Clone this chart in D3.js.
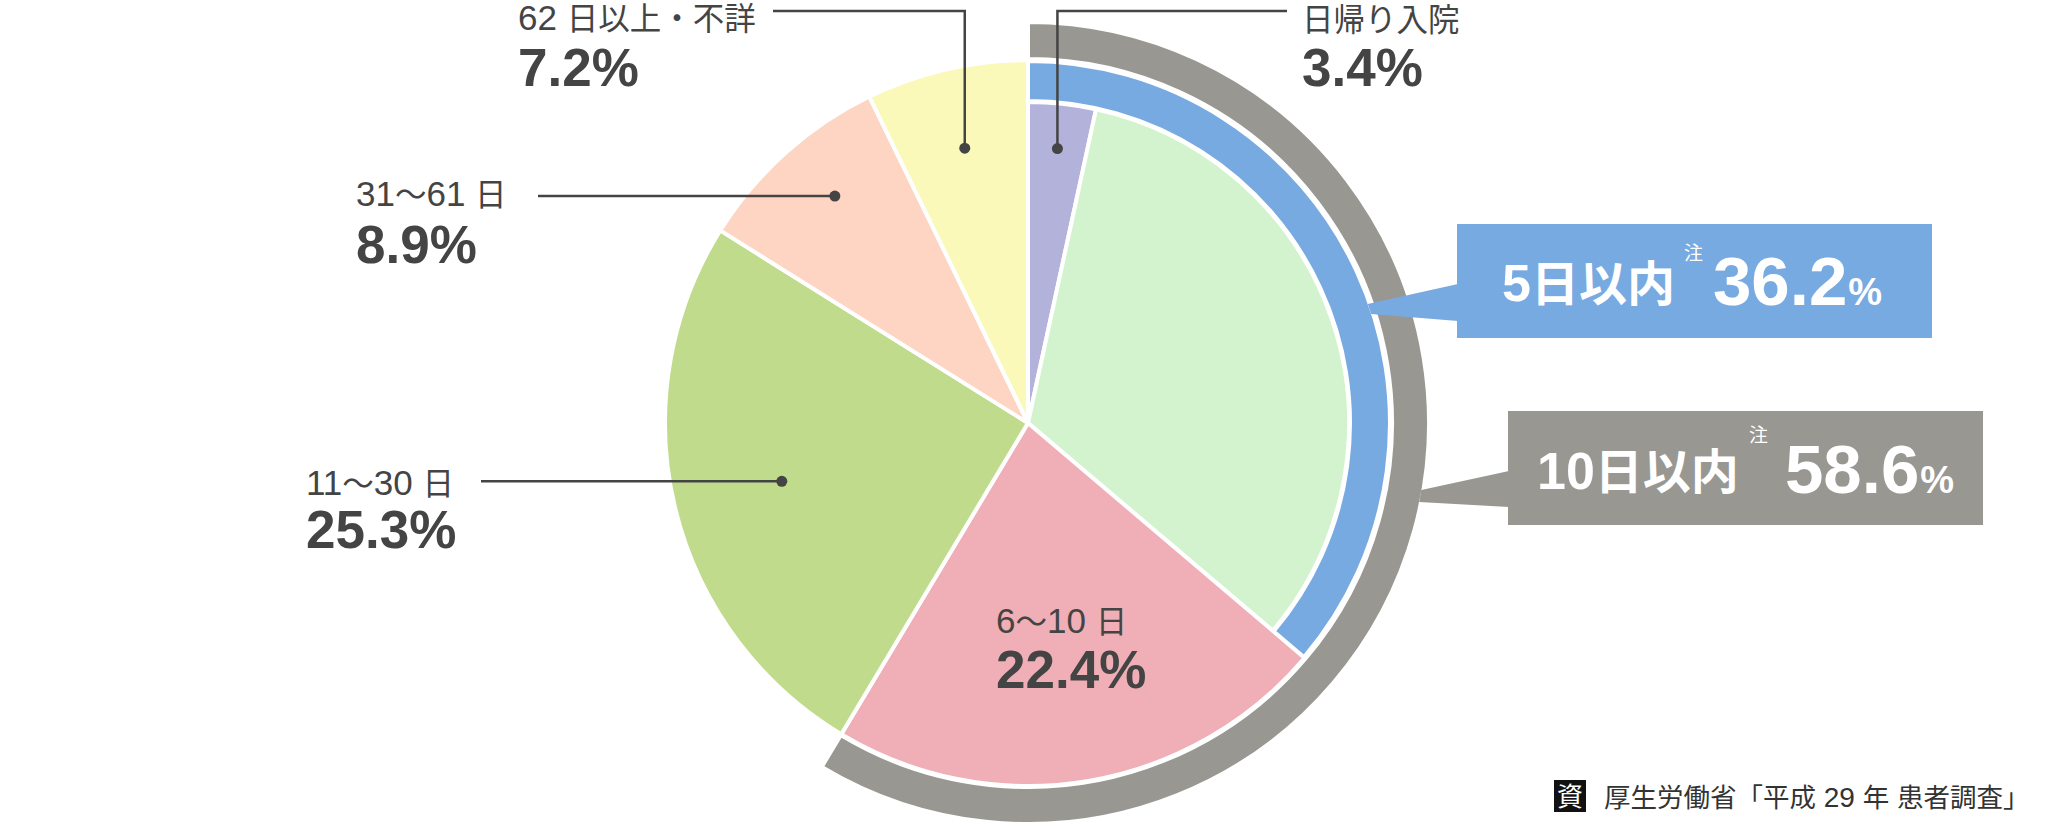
<!DOCTYPE html>
<html><head><meta charset="utf-8">
<script src="https://cdn.jsdelivr.net/npm/d3@7"></script>
<style>body{margin:0;background:#fff}</style>
</head><body><svg id="c" width="2054" height="826"></svg>
<script>
// ---- data ----
const categories = ["日帰り入院", "1〜5 日", "6〜10 日", "11〜30 日", "31〜61 日", "62 日以上・不詳"];
const values = [3.4, 32.8, 22.4, 25.3, 8.9, 7.2];
const showLabel = [true, false, true, true, true, true];
const groupNames = ["5日以内", "10日以内"];
const groupValues = [36.2, 58.6];
const groupLastIndex = [1, 2];
const noteMark = "注";
const sourceBadge = "資";
const sourceText = "厚生労働省「平成 29 年 患者調査」";

// ---- styles ----
const sliceColors = ["#b3b2db", "#d3f3cf", "#f0afb6", "#c1db8c", "#fed4c2", "#fbf9b9"];
const groupColors = ["#78aae2", "#989792"];
const textColor = "#444444";
const latin = "'Liberation Sans', Arial, 'Noto Sans CJK JP', sans-serif";
const cjk = "'Noto Sans CJK JP', 'Liberation Sans', sans-serif";

const svg = d3.select("#c");
const cx = 1028, cy = 423;
const g = svg.append("g").attr("transform", `translate(${cx},${cy})`);

const pie = d3.pie().sort(null).value(d => d);
const arcsData = pie(values);

const rInner5 = 321, rFull = 363;
const sliceArc = d3.arc().innerRadius(0)
  .outerRadius((d, i) => i <= groupLastIndex[0] ? rInner5 : rFull);

g.selectAll("path.slice").data(arcsData).join("path")
  .attr("class", "slice")
  .attr("d", (d, i) => sliceArc(d, i))
  .attr("fill", (d, i) => sliceColors[i])
  .attr("stroke", "#fff").attr("stroke-width", 4).attr("stroke-linejoin", "miter");

const ringRadii = [[322, 362], [364, 401]];
const rings = groupLastIndex.map((li, k) => ({
  startAngle: arcsData[0].startAngle,
  endAngle: arcsData[li].endAngle,
  inner: ringRadii[k][0], outer: ringRadii[k][1], k
}));
g.selectAll("path.ring").data(rings.slice().reverse()).join("path")
  .attr("class", "ring")
  .attr("d", d => d3.arc().innerRadius(d.inner).outerRadius(d.outer)(d))
  .attr("fill", d => groupColors[d.k])
  .attr("stroke", "#fff").attr("stroke-width", 4);

function mixedText(sel, str, x, y, latinSize, cjkSize, weight, fill) {
  const t = sel.append("text").attr("x", x).attr("y", y).attr("fill", fill)
    .attr("font-weight", weight);
  const runs = str.match(/[\u3000-\u9fff\uff00-\uffef]+|[^\u3000-\u9fff\uff00-\uffef]+/g);
  runs.forEach(r => {
    const isCjk = /[\u3000-\u9fff\uff00-\uffef]/.test(r);
    t.append("tspan").text(r)
      .attr("font-family", isCjk ? cjk : latin)
      .attr("font-size", isCjk ? cjkSize : latinSize)
      .attr("style", "white-space:pre");
  });
  return t;
}

// ---- callouts ----
const boxes = [
  {x: 1457, y: 224, w: 475, h: 114, baseTop: 284, baseBot: 321, tipTop: 304, tipBot: 314,
   nameX: 1502, nameY: 301, noteX: 1684, noteY: 260, valX: 1713, valY: 305},
  {x: 1508, y: 411, w: 475, h: 114, baseTop: 471, baseBot: 507, tipTop: 490, tipBot: 502,
   nameX: 1537, nameY: 489, noteX: 1749, noteY: 442, valX: 1785, valY: 493}
];
const fmtVal = d3.format(".1f");
boxes.forEach((b, k) => {
  const ring = rings[k];
  const tipR = ring.outer - 2;
  const tx = y => cx + Math.sqrt(tipR * tipR - (y - cy) * (y - cy));
  const pts = [[tx(b.tipTop), b.tipTop], [b.x + 1, b.baseTop], [b.x + 1, b.baseBot], [tx(b.tipBot), b.tipBot]];
  svg.append("polygon").attr("points", pts.map(p => p.join(",")).join(" ")).attr("fill", groupColors[k]);
  svg.append("rect").attr("x", b.x).attr("y", b.y).attr("width", b.w).attr("height", b.h).attr("fill", groupColors[k]);
  mixedText(svg, groupNames[k], b.nameX, b.nameY, 52, 48, "bold", "#fff");
  svg.append("text").attr("x", b.noteX).attr("y", b.noteY).attr("font-family", cjk)
    .attr("font-size", 19).attr("fill", "#fff").text(noteMark);
  const vt = svg.append("text").attr("x", b.valX).attr("y", b.valY).attr("font-family", latin)
    .attr("font-size", 69).attr("font-weight", "bold").attr("fill", "#fff").text(fmtVal(groupValues[k]));
  const len = vt.node().getComputedTextLength();
  svg.append("text").attr("x", b.valX + len + 1).attr("y", b.valY).attr("font-family", latin)
    .attr("font-size", 38).attr("font-weight", "bold").attr("fill", "#fff").text("%");
});

// ---- slice labels ----
const labelLayout = [
  {r: 276, t: 0.5, leader: "up", elbowY: 11, endX: 1287, tx: 1302, ty: 31, py: 86},
  null,
  {inside: true, tx: 996, ty: 633, py: 688},
  {r: 253, t: 0.502, leader: "left", endX: 481, tx: 306, ty: 495, py: 548},
  {r: 298, t: 0.548, leader: "left", endX: 538, tx: 356, ty: 206, py: 263},
  {r: 282, t: 0.5, leader: "up", elbowY: 11, endX: 773, tx: 518, ty: 30, py: 86}
];
const pctFmt = v => fmtVal(v) + "%";
arcsData.forEach((d, i) => {
  if (!showLabel[i]) return;
  const L = labelLayout[i];
  if (!L.inside) {
    const a = d.startAngle + (d.endAngle - d.startAngle) * L.t;
    const px = cx + L.r * Math.sin(a), py = cy - L.r * Math.cos(a);
    let pts;
    if (L.leader === "up") pts = [[px, py], [px, L.elbowY], [L.endX, L.elbowY]];
    else pts = [[px, py], [L.endX, py]];
    svg.append("polyline").attr("points", pts.map(p => p.join(",")).join(" "))
      .attr("fill", "none").attr("stroke", textColor).attr("stroke-width", 2.5);
    svg.append("circle").attr("cx", px).attr("cy", py).attr("r", 5.5).attr("fill", textColor);
  }
  mixedText(svg, categories[i], L.tx, L.ty, 35, 31.5, "normal", textColor);
  svg.append("text").attr("x", L.tx).attr("y", L.py).attr("font-family", latin)
    .attr("font-size", 53).attr("font-weight", "bold").attr("fill", textColor).text(pctFmt(values[i]));
});

// ---- source ----
svg.append("rect").attr("x", 1554).attr("y", 780).attr("width", 32).attr("height", 32).attr("fill", "#111");
svg.append("text").attr("x", 1570).attr("y", 806).attr("text-anchor", "middle").attr("font-family", cjk)
  .attr("font-size", 26).attr("fill", "#fff").text(sourceBadge);
mixedText(svg, sourceText, 1604, 807, 28, 26.5, "normal", "#333");
</script></body></html>
